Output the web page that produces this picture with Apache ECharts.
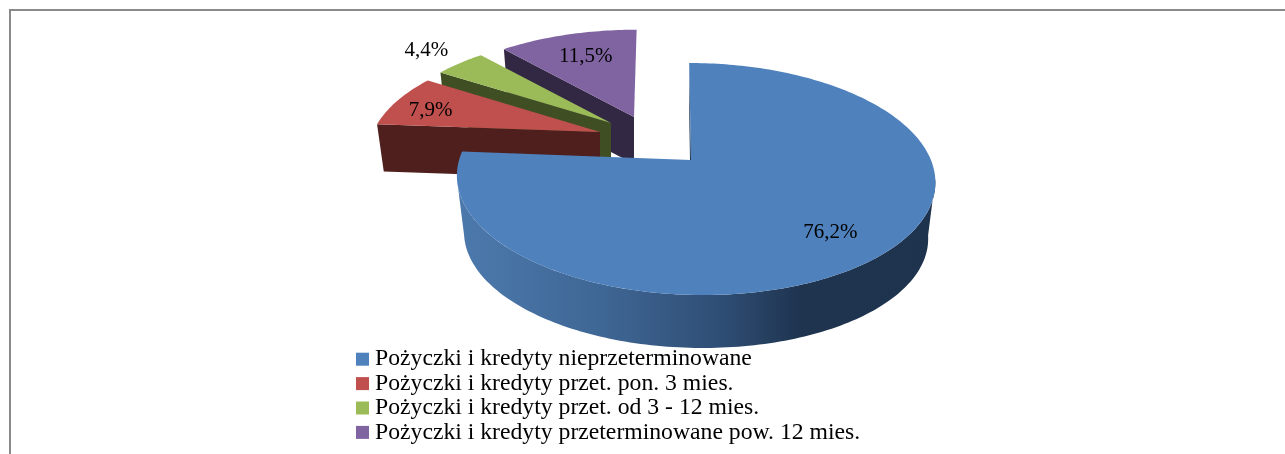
<!DOCTYPE html>
<html>
<head>
<meta charset="utf-8">
<style>
html, body { margin: 0; padding: 0; background: #fff; }
#chart { width: 1285px; height: 454px; }
</style>
<script src="https://cdn.jsdelivr.net/npm/echarts@6/dist/echarts.min.js"></script>
</head>
<body>
<div id="chart"></div>
<script>
var categories = [
    'Pożyczki i kredyty nieprzeterminowane',
    'Pożyczki i kredyty przet. pon. 3 mies.',
    'Pożyczki i kredyty przet. od 3 - 12 mies.',
    'Pożyczki i kredyty przeterminowane pow. 12 mies.'
];
var values = [76.2, 7.9, 4.4, 11.5];
var valueLabels = ['76,2%', '7,9%', '4,4%', '11,5%'];

var colors = ['#4f81bd', '#c0504d', '#9bbb59', '#8064a2'];
var wallColors = ['#1d334e', '#4f1f1d', '#3f4f23', '#332843'];

// how each slice is pulled out of the pie, in pixels on the page
var apexX = [691, 600, 611, 634];
var apexY = [160, 132, 123, 117];
var scalesX = [0.983, 0.945, 0.92, 0.935];
var scalesY = [1, 0.92, 0.9, 0.9];
var depths = [57, 47, 47, 47];
var skews = [-0.06, 0.06, 0, 0.03];
var rimShift = [4, 0, 0, 0];
var labelRadius = [0.75, 0.83, 1.25, 0.7];
var labelDown = [4, 5, 1, 0];

// perspective of the disc
var RX = 240, RY = 112.9, PERSP = 0.164, BOTTOM_SCALE = 0.97;

var total = values.reduce(function (a, b) { return a + b; }, 0);

function project(i, angle, r, down, shrink) {
    var dx = Math.sin(angle) * r;
    var dy = Math.cos(angle) * r;
    var w = 1 + PERSP * dy;
    var v = RY * dy / w * scalesY[i] * shrink;
    var u = RX * dx / w * scalesX[i] * shrink + skews[i] * v + rimShift[i] * r;
    return [apexX[i] + u, apexY[i] - v + down];
}

function arcPoints(i, from, to, down, shrink) {
    var pts = [];
    var n = Math.max(8, Math.ceil((to - from) / 0.02));
    for (var k = 0; k <= n; k++) {
        pts.push(project(i, from + (to - from) * k / n, 1, down, shrink));
    }
    return pts;
}

function renderSlice(i) {
    var before = 0;
    for (var j = 0; j < i; j++) before += values[j];
    var from = before / total * Math.PI * 2;
    var to = (before + values[i]) / total * Math.PI * 2;
    var mid = (from + to) / 2;
    var d = depths[i];
    var children = [];
    var apex = [apexX[i], apexY[i]];
    var apexDown = [apexX[i], apexY[i] + d];

    if (i === 0) {
        // outer wall of the big slice, from one widest point of the disc to the other
        var wallFrom = Math.PI * 0.5 + Math.asin(PERSP), wallTo = Math.PI * 1.5 - Math.asin(PERSP);
        var wall = arcPoints(i, wallFrom, wallTo, 0, 1)
            .concat(arcPoints(i, wallFrom, wallTo, d, BOTTOM_SCALE).reverse());
        children.push({
            type: 'polygon',
            shape: { points: wall },
            style: {
                fill: new echarts.graphic.LinearGradient(0, 0, 1, 0, [
                    { offset: 0, color: '#4c79ad' },
                    { offset: 0.3, color: '#3f6795' },
                    { offset: 0.55, color: '#2f4e75' },
                    { offset: 0.72, color: '#1e344f' },
                    { offset: 1, color: wallColors[i] }
                ])
            }
        });
    }
    // cut face on the start side of the slice, the only one the viewer sees
    children.push({
        type: 'polygon',
        shape: { points: [apex, project(i, from, 1, 0, 1), project(i, from, 1, d, BOTTOM_SCALE), apexDown] },
        style: { fill: wallColors[i] }
    });

    children.push({
        type: 'polygon',
        shape: { points: [apex].concat(arcPoints(i, from, to, 0, 1)) },
        style: { fill: colors[i] }
    });

    var lp = project(i, mid, labelRadius[i], labelDown[i], 1);
    children.push({
        type: 'text',
        x: lp[0],
        y: lp[1],
        style: {
            text: valueLabels[i],
            fill: '#000',
            font: '21px "Liberation Serif"',
            align: 'center',
            verticalAlign: 'middle'
        }
    });
    return { type: 'group', children: children };
}

// back slices first so the front ones cover their walls
var drawOrder = [3, 2, 1, 0];
var series = drawOrder.map(function (i) {
    return {
        type: 'custom',
        name: categories[i],
        coordinateSystem: 'none',
        silent: true,
        itemStyle: { color: colors[i] },
        data: [values[i]],
        renderItem: function () { return renderSlice(i); }
    };
});

var myChart = echarts.init(document.getElementById('chart'), null, { renderer: 'canvas' });
var option = {
    backgroundColor: '#fff',
    animation: false,
    legend: {
        data: categories,
        orient: 'vertical',
        left: 351,
        top: 342,
        itemWidth: 13,
        itemHeight: 13,
        itemGap: 0,
        icon: 'rect',
        selectedMode: false,
        textStyle: {
            color: '#000',
            fontFamily: 'Liberation Serif',
            fontSize: 23.7,
            lineHeight: 24.4,
            padding: [0, 0, 0, 1]
        }
    },
    graphic: [
        { type: 'line', silent: true, shape: { x1: 9, y1: 10, x2: 1285, y2: 10 }, style: { stroke: '#8a8a8a', lineWidth: 2 } },
        { type: 'line', silent: true, shape: { x1: 10, y1: 9, x2: 10, y2: 454 }, style: { stroke: '#8a8a8a', lineWidth: 2 } }
    ],
    series: series
};
myChart.setOption(option);
</script>
</body>
</html>
